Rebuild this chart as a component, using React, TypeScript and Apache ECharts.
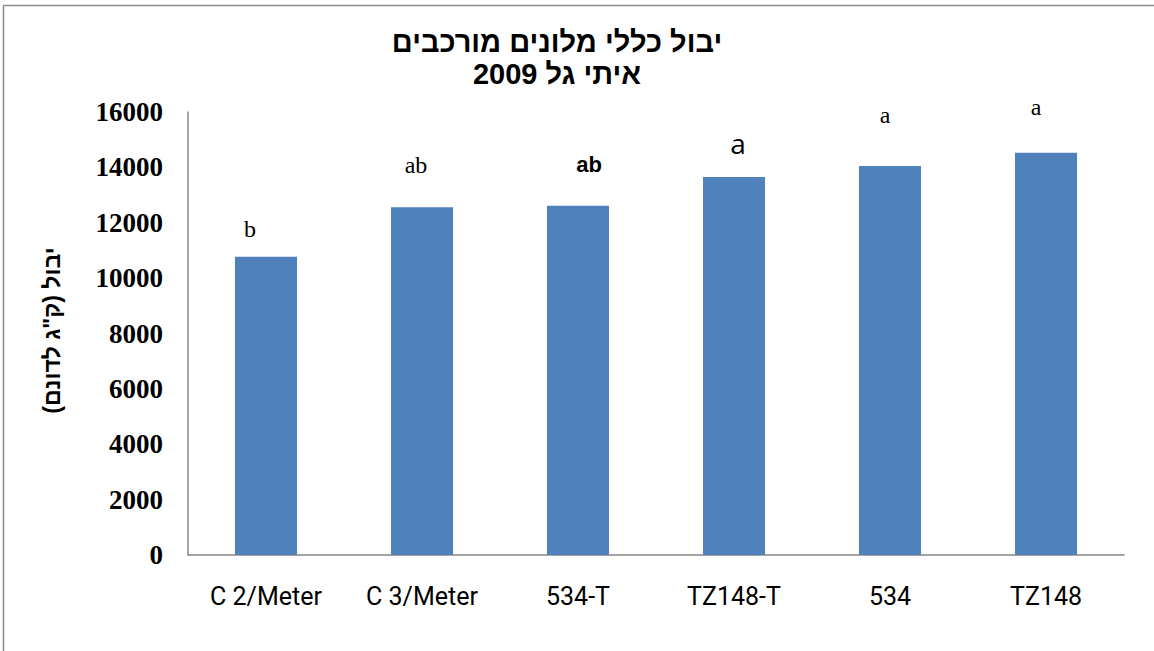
import React, { useEffect, useRef } from "react";
import * as echarts from "echarts";

const titleLines = ["יבול כללי מלונים מורכבים", "איתי גל 2009"];
const yAxisName = 'יבול (ק"ג לדונם)';
const categories = ["C 2/Meter", "C 3/Meter", "534-T", "TZ148-T", "534", "TZ148"];
const yieldValues = [10770, 12560, 12610, 13650, 14050, 14530];
const letters = ["b", "ab", "ab", "a", "a", "a"];
const yTicks = { min: 0, max: 16000, interval: 2000 };

// label styling (positions relative to the top of each bar)
const letterStyles = [
  { offset: [-16, -16], fontSize: 24, fontWeight: "normal", fontFamily: "Liberation Serif", lineHeight: 24 },
  { offset: [-6, -30], fontSize: 24, fontWeight: "normal", fontFamily: "Liberation Serif", lineHeight: 24 },
  { offset: [11, -29], fontSize: 22, fontWeight: "bold", fontFamily: "Liberation Sans", lineHeight: 24 },
  { offset: [4, -19], fontSize: 28, fontWeight: "normal", fontFamily: "Open Sans", lineHeight: 30 },
  { offset: [-5, -39], fontSize: 24, fontWeight: "normal", fontFamily: "Liberation Serif", lineHeight: 24 },
  { offset: [-10, -34], fontSize: 24, fontWeight: "normal", fontFamily: "Liberation Serif", lineHeight: 24 },
];

export default function App() {
  const ref = useRef<HTMLDivElement>(null);
  useEffect(() => {
    document.body.style.margin = "0";
    const chart = echarts.init(ref.current!, null, { renderer: "svg" });
    const data = yieldValues.map((v, i) => ({
      value: v,
      label: {
        show: true,
        position: "top",
        distance: 0,
        formatter: letters[i],
        color: "#000",
        ...letterStyles[i],
      },
    }));
    chart.setOption({
      animation: false,
      backgroundColor: "#fff",
      title: {
        text: titleLines.join("\n"),
        left: 552,
        textAlign: "center",
        top: 21,
        textStyle: {
          fontFamily: "Liberation Sans",
          fontWeight: "bold",
          fontSize: 29,
          lineHeight: 32,
          color: "#000",
        },
      },
      grid: { left: 188, right: 30, top: 112, bottom: 96, containLabel: false },
      xAxis: {
        type: "category",
        data: categories,
        axisLine: { show: true, lineStyle: { color: "#868686", width: 1.5 } },
        axisTick: { show: false },
        axisLabel: {
          color: "#000",
          fontFamily: "Roboto",
          fontSize: 25,
          margin: 29,
        },
      },
      yAxis: {
        type: "value",
        min: yTicks.min,
        max: yTicks.max,
        interval: yTicks.interval,
        name: yAxisName,
        nameLocation: "middle",
        nameGap: 125,
        nameTextStyle: {
          fontFamily: "Liberation Sans",
          fontWeight: "bold",
          fontSize: 23,
          color: "#000",
          padding: [0, 0, 0, 6],
        },
        axisLine: { show: true, lineStyle: { color: "#868686", width: 1.5 } },
        axisTick: { show: false },
        splitLine: { show: false },
        axisLabel: {
          color: "#000",
          fontFamily: "Liberation Serif",
          fontWeight: "bold",
          fontSize: 27,
          margin: 25,
          formatter: (v: number) => String(v),
        },
      },
      series: [
        {
          type: "bar",
          data,
          barWidth: 62,
          itemStyle: { color: "#4F81BD" },
        },
      ],
      graphic: [
        {
          type: "rect",
          shape: { x: 3.5, y: 5.5, width: 1300, height: 800 },
          style: { fill: "none", stroke: "#8c8c8c", lineWidth: 1.5 },
          silent: true,
        },
      ],
    });
    return () => chart.dispose();
  }, []);
  return <div ref={ref} style={{ width: 1154, height: 651 }} />;
}
